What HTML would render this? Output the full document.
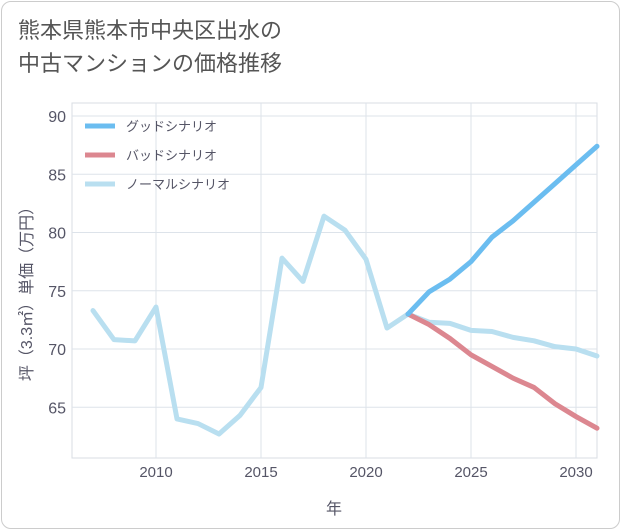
<!DOCTYPE html>
<html><head><meta charset="utf-8"><style>
html,body{margin:0;padding:0;background:#fff;}
body{width:621px;height:530px;overflow:hidden;font-family:"Liberation Sans","Noto Sans CJK JP",sans-serif;}
.card{position:absolute;left:1px;top:1px;width:617px;height:526px;border:1px solid #ccc;border-radius:10px;}
.title{position:absolute;left:18px;top:14px;font-size:22px;line-height:33px;color:#555;}
</style></head><body>
<div class="card"></div>
<div class="title">熊本県熊本市中央区出水の<br>中古マンションの価格推移</div>
<svg id="c" width="621" height="530" style="position:absolute;left:0;top:0"></svg>
<script>
const years=[2007,2008,2009,2010,2011,2012,2013,2014,2015,2016,2017,2018,2019,2020,2021,2022,2023,2024,2025,2026,2027,2028,2029,2030,2031];
const normalVals=[73.3,70.8,70.7,73.6,64.0,63.6,62.7,64.3,66.7,77.8,75.8,81.4,80.2,77.7,71.8,73.0,72.3,72.2,71.6,71.5,71.0,70.7,70.2,70.0,69.4];
const futureYears=[2022,2023,2024,2025,2026,2027,2028,2029,2030,2031];
const goodVals=[73.0,74.9,76.0,77.5,79.6,81.0,82.6,84.2,85.8,87.4];
const badVals=[73.0,72.1,70.9,69.5,68.5,67.5,66.7,65.3,64.2,63.2];
const xTicks=[2010,2015,2020,2025,2030];
const yTicks=[65,70,75,80,85,90];
const seriesNames=["グッドシナリオ","バッドシナリオ","ノーマルシナリオ"];
const NS="http://www.w3.org/2000/svg";
const svg=document.getElementById('c');
const L=72,R=597,T=103,B=458;
const x=v=>156+(v-2010)*21;
const y=v=>116+(90-v)*11.65;
function mk(t,a){const e=document.createElementNS(NS,t);for(const k in a)e.setAttribute(k,a[k]);svg.appendChild(e);return e;}
const bg=mk('rect',{x:L,y:T,width:R-L,height:B-T,fill:'#fff',stroke:'#d8dde3'});


xTicks.forEach(t=>{
 const g=mk('line',{x1:x(t),x2:x(t),y1:T,y2:B,stroke:'#dde3ea'});
 
 
 const tx=mk('text',{x:x(t),y:477,'text-anchor':'middle','font-size':15,fill:'#556'});tx.textContent=t;
 
 
});
yTicks.forEach(t=>{
 const g=mk('line',{x1:L,x2:R,y1:y(t),y2:y(t),stroke:'#dde3ea'});
 
 
 const tx=mk('text',{x:66,y:y(t)+6,'text-anchor':'end','font-size':16,fill:'#556'});tx.textContent=t;
 
 
});
const xt=mk('text',{x:334,y:514,'text-anchor':'middle','font-size':16,fill:'#556'});xt.textContent='年';


const yt=mk('text',{x:0,y:0,'text-anchor':'middle','font-size':16,fill:'#556',transform:'translate(32,290) rotate(-90)'});yt.textContent='坪（3.3㎡）単価（万円）';


function line(xs,vs,col,name){
 const p=mk('polyline',{points:xs.map((d,i)=>x(d)+','+y(vs[i])).join(' '),fill:'none',stroke:col,'stroke-width':5,'stroke-linejoin':'round','stroke-linecap':'round'});
 
 
}
line(years,normalVals,'#b9dff0','normal-scenario-line');
line(futureYears,badVals,'#dc8790','bad-scenario-line');
line(futureYears,goodVals,'#6bbdf0','good-scenario-line');
const cols=['#6bbdf0','#dc8790','#b9dff0'];
seriesNames.forEach((n,i)=>{
 const yy=126+i*29;
 const l=mk('line',{x1:85,x2:115,y1:yy,y2:yy,stroke:cols[i],'stroke-width':5});
 
 
 const t=mk('text',{x:126,y:yy+5,'font-size':13,fill:'#556'});t.textContent=n;
 
 
});
</script>
</body></html>
